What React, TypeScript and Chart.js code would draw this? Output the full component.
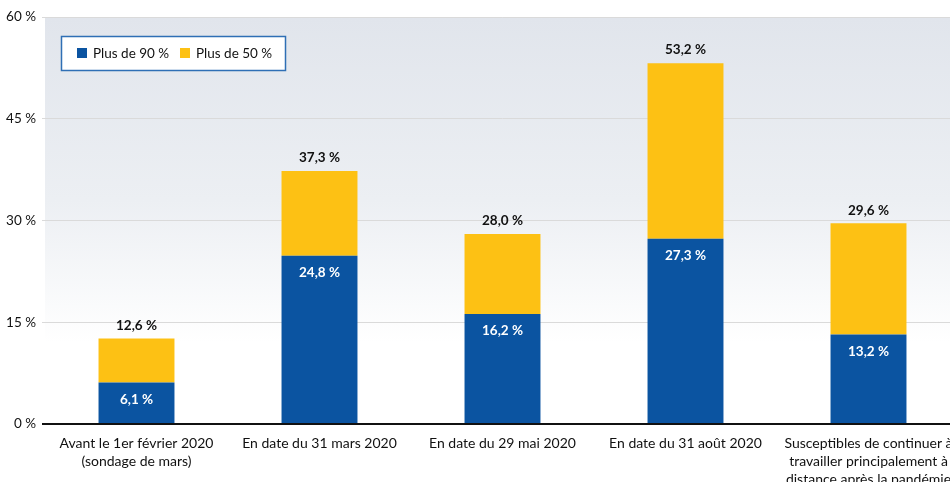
import { useEffect, useRef } from "react";
import { Chart, registerables } from "chart.js";

Chart.register(...registerables);

const categories: string[][] = [
  ["Avant le 1er février 2020", "(sondage de mars)"],
  ["En date du 31 mars 2020"],
  ["En date du 29 mai 2020"],
  ["En date du 31 août 2020"],
  ["Susceptibles de continuer à", "travailler principalement à", "distance après la pandémie"],
];
const seriesLabels = ["Plus de 90 %", "Plus de 50 %"];
const plus90 = [6.1, 24.8, 16.2, 27.3, 13.2];
const plus50 = [6.5, 12.5, 11.8, 25.9, 16.4];
const yTicks = [0, 15, 30, 45, 60];

const BLUE = "#0b54a1";
const YELLOW = "#fdc114";
const FONT = "Lato";

const fmt = (v: number) => v.toFixed(1).replace(".", ",") + " %";

const bgPlugin = {
  id: "bgGradient",
  beforeDraw(chart: any) {
    const { ctx, chartArea } = chart;
    if (!chartArea) return;
    const g = ctx.createLinearGradient(0, chartArea.top, 0, chartArea.bottom);
    g.addColorStop(0, "#e1e5ec");
    g.addColorStop(0.45, "#eceff3");
    g.addColorStop(0.8, "#ffffff");
    g.addColorStop(1, "#ffffff");
    ctx.save();
    ctx.fillStyle = g;
    ctx.fillRect(chartArea.left, chartArea.top, chartArea.right - chartArea.left, chartArea.bottom - chartArea.top);
    ctx.restore();
  },
};

const labelPlugin = {
  id: "valueLabels",
  afterDatasetsDraw(chart: any) {
    const { ctx } = chart;
    const m0 = chart.getDatasetMeta(0);
    const m1 = chart.getDatasetMeta(1);
    ctx.save();
    ctx.textAlign = "center";
    ctx.textBaseline = "middle";
    m0.data.forEach((bar: any, i: number) => {
      ctx.fillStyle = "#ffffff";
      ctx.font = `bold 13.5px ${FONT}`;
      ctx.fillText(fmt(plus90[i]), bar.x, bar.y + 17);
      const top = m1.data[i];
      ctx.fillStyle = "#111111";
      ctx.font = `bold 13.5px ${FONT}`;
      ctx.fillText(fmt(plus90[i] + plus50[i]), top.x, top.y - 13);
    });
    // legend
    const bx = 61, by = 36, bw = 224, bh = 34;
    ctx.fillStyle = "#ffffff";
    ctx.fillRect(bx, by, bw, bh);
    ctx.strokeStyle = "#2f6fb5";
    ctx.lineWidth = 1.5;
    ctx.strokeRect(bx + 0.5, by + 0.5, bw, bh);
    const items = [
      { label: chart.data.datasets[0].label, color: chart.data.datasets[0].backgroundColor, x: 77 },
      { label: chart.data.datasets[1].label, color: chart.data.datasets[1].backgroundColor, x: 180 },
    ];
    ctx.textAlign = "left";
    ctx.font = `13.5px ${FONT}`;
    items.forEach((it) => {
      ctx.fillStyle = it.color;
      ctx.fillRect(it.x, 48, 10, 10);
      ctx.fillStyle = "#111111";
      ctx.fillText(it.label, it.x + 16, 53.5);
    });
    ctx.restore();
  },
};

export default function App() {
  const ref = useRef<HTMLCanvasElement>(null);
  useEffect(() => {
    if (!ref.current) return;
    const chart = new Chart(ref.current, {
      type: "bar",
      data: {
        labels: categories,
        datasets: [
          { label: seriesLabels[0], data: plus90, backgroundColor: BLUE, categoryPercentage: 1, barPercentage: 0.415 },
          { label: seriesLabels[1], data: plus50, backgroundColor: YELLOW, categoryPercentage: 1, barPercentage: 0.415 },
        ],
      },
      options: {
        responsive: false,
        animation: false,
        layout: { padding: { top: 17, left: 0, right: 0, bottom: 0 } },
        plugins: { legend: { display: false }, tooltip: { enabled: false } },
        scales: {
          x: {
            stacked: true,
            grid: { display: false },
            border: { display: false },
            ticks: { color: "#111111", font: { family: FONT, size: 14, lineHeight: 1.3 }, padding: 2, maxRotation: 0, autoSkip: false },
            afterFit: (s: any) => { s.height = 58; },
          },
          y: {
            stacked: true,
            min: 0,
            max: 60,
            afterBuildTicks: (s: any) => { s.ticks = yTicks.map((v) => ({ value: v })); },
            afterFit: (s: any) => { s.width = 45; },
            border: { display: false },
            grid: {
              color: (c: any) => (c.tick && c.tick.value === 0 ? "#111111" : "#dadada"),
              lineWidth: (c: any) => (c.tick && c.tick.value === 0 ? 2 : 1),
              tickLength: 3,
            },
            ticks: { color: "#111111", font: { family: FONT, size: 13.5 }, padding: 6, callback: (v: any) => `${v} %` },
          },
        },
      },
      plugins: [bgPlugin, labelPlugin],
    });
    return () => chart.destroy();
  }, []);
  return (
    <div style={{ position: "fixed", left: 0, top: 0, width: 950, height: 482, overflow: "hidden", background: "#fff" }}>
      <canvas ref={ref} width={960} height={482} style={{ display: "block" }} />
    </div>
  );
}
